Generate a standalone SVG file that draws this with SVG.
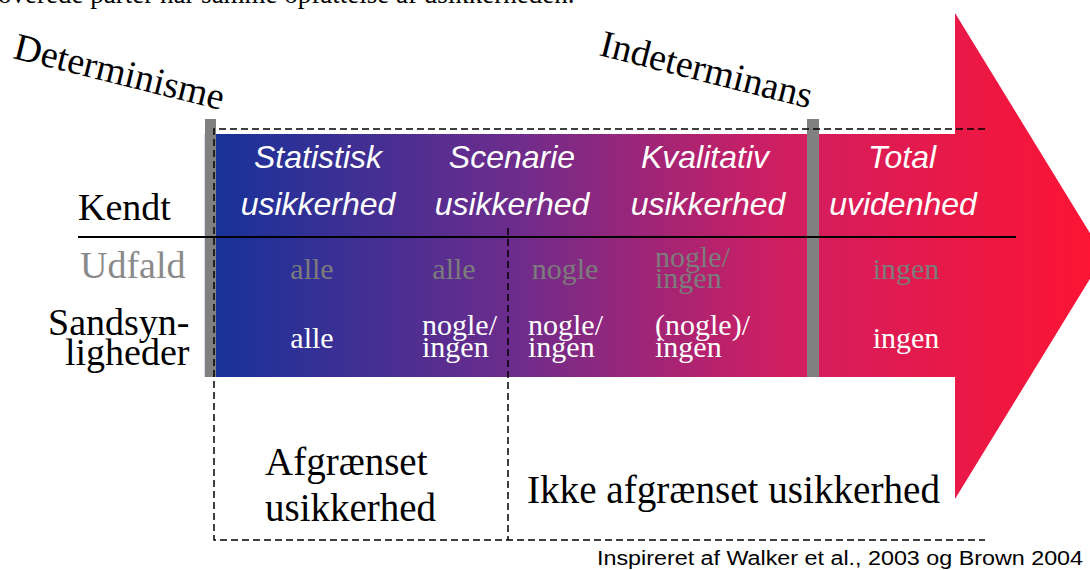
<svg xmlns="http://www.w3.org/2000/svg" width="1090" height="570" viewBox="0 0 1090 570">
  <defs>
    <linearGradient id="spectrum" gradientUnits="userSpaceOnUse" x1="205" y1="0" x2="1090" y2="0">
      <stop offset="0" stop-color="#14329a"/>
      <stop offset="0.35" stop-color="#6d2c8c"/>
      <stop offset="0.65" stop-color="#d01e62"/>
      <stop offset="1" stop-color="#fc1434"/>
    </linearGradient>
  </defs>
  <style>
    .serif { font-family: "Liberation Serif", "Times New Roman", serif; }
    .sans { font-family: "Liberation Sans", Arial, sans-serif; }
    .head { font-family: "Liberation Sans", Arial, sans-serif; font-style: italic; font-size: 32px; fill: #ffffff; text-anchor: middle; }
    .cell { font-family: "Liberation Serif", "Times New Roman", serif; font-size: 30px; }
    .grey { fill: #7c7c7c; }
    .white { fill: #ffffff; }
    .label { font-family: "Liberation Serif", "Times New Roman", serif; font-size: 38px; fill: #000000; }
    .big { font-family: "Liberation Serif", "Times New Roman", serif; font-size: 39px; fill: #000000; }
    .bar { fill: #808080; }
    .dash { fill: none; stroke: #000000; stroke-width: 1.5; stroke-dasharray: 7 4; }
  </style>
  <rect width="1090" height="570" fill="#ffffff"/>

  <!-- clipped running text from the page above -->
  <text class="serif" x="-2" y="3" font-size="27" fill="#000">overede parter har samme opfattelse af usikkerheden.</text>

  <!-- the large gradient arrow -->
  <g id="arrow">
    <polygon points="205,134 955,134 955,13 1104,256 955,499 955,377 205,377" fill="url(#spectrum)"/>
    <line x1="205.5" y1="134" x2="205.5" y2="377" stroke="#5570c4" stroke-width="1.5"/>
  </g>

  <!-- grey boundary markers -->
  <g id="marker-determinisme">
    <rect class="bar" x="205" y="119" width="11" height="258"/>
    <text class="serif" font-size="38" transform="translate(12,58) rotate(14)">Determinisme</text>
  </g>
  <g id="marker-indeterminans">
    <rect class="bar" x="807" y="119" width="12" height="258"/>
    <text class="serif" font-size="38" transform="translate(598,55) rotate(14.2)">Indeterminans</text>
  </g>

  <!-- dashed frames and dividing rule -->
  <g id="connectors">
    <polyline class="dash" points="985,129 214,129 214,540 985,540"/>
    <line class="dash" x1="508" y1="228" x2="508" y2="540"/>
    <line x1="78" y1="237" x2="1016" y2="237" stroke="#000" stroke-width="2"/>
  </g>

  <!-- row labels -->
  <g id="row-labels">
    <text class="label" x="78" y="220">Kendt</text>
    <text class="label" x="80" y="278" style="fill:#8a8a8a">Udfald</text>
    <text class="label" x="48" y="335">Sandsyn-</text>
    <text class="label" x="65" y="365">ligheder</text>
  </g>

  <!-- columns -->
  <g id="col-statistisk">
    <text class="head" x="318" y="168">Statistisk</text>
    <text class="head" x="318" y="215">usikkerhed</text>
    <text class="cell grey" x="312" y="279" text-anchor="middle">alle</text>
    <text class="cell white" x="312" y="348" text-anchor="middle">alle</text>
  </g>
  <g id="col-scenarie">
    <text class="head" x="512" y="168">Scenarie</text>
    <text class="head" x="512" y="215">usikkerhed</text>
    <text class="cell grey" x="454" y="279" text-anchor="middle">alle</text>
    <text class="cell white" x="422" y="335">nogle/</text>
    <text class="cell white" x="422" y="357">ingen</text>
    <text class="cell grey" x="565" y="279" text-anchor="middle">nogle</text>
    <text class="cell white" x="528" y="335">nogle/</text>
    <text class="cell white" x="528" y="357">ingen</text>
  </g>
  <g id="col-kvalitativ">
    <text class="head" x="705" y="168">Kvalitativ</text>
    <text class="head" x="708" y="215">usikkerhed</text>
    <text class="cell grey" x="655" y="267">nogle/</text>
    <text class="cell grey" x="655" y="288">ingen</text>
    <text class="cell white" x="655" y="335">(nogle)/</text>
    <text class="cell white" x="655" y="357">ingen</text>
  </g>
  <g id="col-total">
    <text class="head" x="902" y="168">Total</text>
    <text class="head" x="903" y="215">uvidenhed</text>
    <text class="cell grey" x="906" y="279" text-anchor="middle">ingen</text>
    <text class="cell white" x="906" y="348" text-anchor="middle">ingen</text>
  </g>

  <!-- bottom groupings -->
  <g id="afgraenset">
    <text class="big" x="265" y="475">Afgrænset</text>
    <text class="big" x="265" y="521">usikkerhed</text>
  </g>
  <g id="ikke-afgraenset">
    <text class="big" x="527" y="503" textLength="413" lengthAdjust="spacingAndGlyphs">Ikke afgrænset usikkerhed</text>
  </g>

  <text class="sans" x="597" y="565" font-size="20" textLength="486" lengthAdjust="spacingAndGlyphs">Inspireret af Walker et al., 2003 og Brown 2004</text>
</svg>
